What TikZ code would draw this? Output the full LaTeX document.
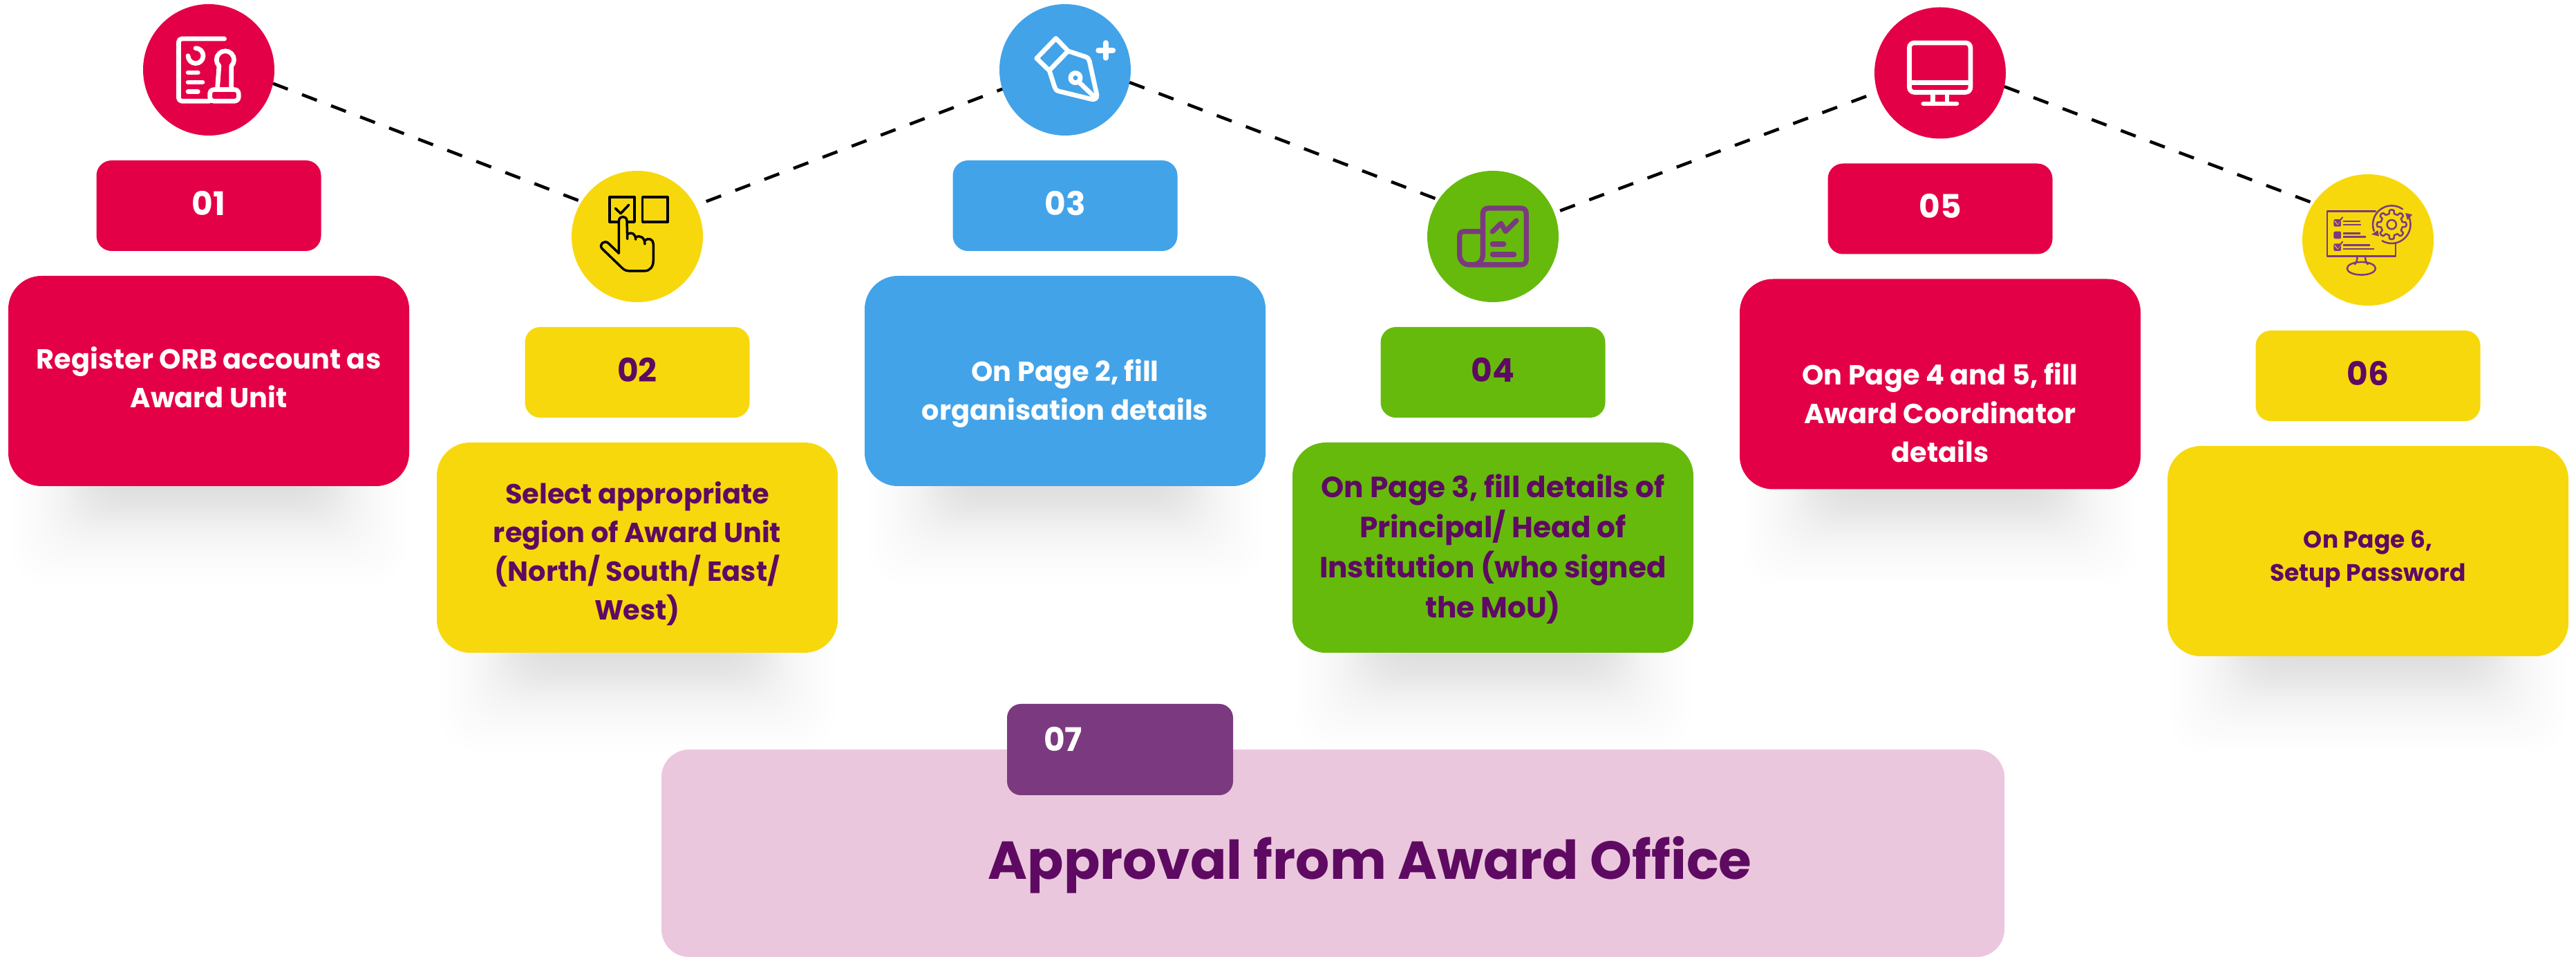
\documentclass[tikz,border=0pt]{standalone}
\usepackage{fontspec}
\setmainfont{Poppins}
\usetikzlibrary{calc,positioning}
\pgfdeclarelayer{bg}
\pgfsetlayers{bg,main}
\definecolor{awardred}{HTML}{E40046}
\definecolor{awardyellow}{HTML}{F7D80D}
\definecolor{awardblue}{HTML}{42A3E9}
\definecolor{awardgreen}{HTML}{66BA0C}
\definecolor{inkpurple}{HTML}{5E0A62}
\definecolor{iconpurple}{HTML}{7B3A80}
\definecolor{awardpink}{HTML}{EBC7DD}
\tikzset{
  circ/.style={circle,minimum size=1.9cm,inner sep=0pt,outer sep=0pt},
  numbox/.style={rounded corners=0.22cm,minimum width=3.25cm,minimum height=1.31cm,inner sep=0pt,outer sep=0pt,text depth=0.08cm,font=\fontsize{13.4}{16}\selectfont\bfseries},
  descbox/.style={rounded corners=0.48cm,minimum width=5.8cm,minimum height=3.04cm,inner sep=0pt,outer sep=0pt},
  desctext/.style={inner sep=0pt,align=center,font=\fontsize{11.35}{15.9}\selectfont\bfseries},
  dashlink/.style={line width=0.045cm,dash pattern=on 0.23cm off 0.22cm},
  icon/.style={line cap=round,line join=round},
  iconscope/.style={x=0.00333cm,y=-0.00333cm},
}
\begin{document}
\begin{tikzpicture}
  \useasboundingbox (0,0) rectangle (37.27,-13.84);

  \foreach \i/\x/\y/\col/\ink in {1/3.02/-1.01/awardred/white,2/9.22/-3.42/awardyellow/inkpurple,3/15.41/-1.01/awardblue/white,4/21.60/-3.42/awardgreen/inkpurple,5/28.07/-1.055/awardred/white,6/34.26/-3.47/awardyellow/inkpurple} {
    \node (c\i) [circ,fill=\col] at (\x,\y) {};
    \node (n\i) [numbox,fill=\col,text=\ink,below=0.36cm of c\i] {0\i};
    \node (d\i) [descbox,fill=\col,below=0.36cm of n\i] {};
    % soft shadow under the box
    \begin{pgfonlayer}{bg}
      \foreach \k in {0,...,39} {
        \pgfmathsetmacro\t{-1+\k/19.5}
        \pgfmathsetmacro\e{0.5*\t+0.45*\t*\t*\t}
        \fill[black,opacity=0.005,rounded corners=0.5cm]
          ($(d\i.west)+(1.0-\e,0)$) rectangle ($(d\i.south east)+(-1.0+\e,-0.45-\e)$);
      }
    \end{pgfonlayer}
  }

  \draw[dashlink] (c1.-12) -- (c2.148);
  \draw[dashlink,shorten <=0.17cm] (c2.28) -- (c3.197);
  \draw[dashlink] (c3.-11) -- (c4.146);
  \draw[dashlink,shorten <=0.09cm] (c4.21) -- (c5.197);
  \draw[dashlink] (c5.-12) -- (c6.146);

  \node (t1) [desctext,text=white] at ([yshift=0.05cm]d1.center) {Register ORB account as\\Award Unit};
  \node (t2) [desctext,text=inkpurple] at ([yshift=-0.09cm]d2.center) {Select appropriate\\region of Award Unit\\(North/ South/ East/\\West)};
  \node (t3) [desctext,text=white] at ([yshift=-0.18cm]d3.center) {On Page 2, fill\\organisation details};
  \node (t4) [desctext,text=inkpurple,font=\fontsize{12}{16.5}\selectfont\bfseries] at ([yshift=-0.02cm]d4.center) {On Page 3, fill details of\\Principal/ Head of\\Institution (who signed\\the MoU)};
  \node (t5) [desctext,text=white] at ([yshift=-0.41cm]d5.center) {On Page 4 and 5, fill\\Award Coordinator\\details};
  \node (t6) [desctext,text=inkpurple,font=\fontsize{9.8}{13.7}\selectfont\bfseries] at ([yshift=-0.11cm]d6.center) {On Page 6,\\Setup Password};

  \node (big) [fill=awardpink,rounded corners=0.4cm,minimum width=19.43cm,minimum height=3cm,inner sep=0pt] at (19.285,-12.34) {};
  \node (n7) [fill=iconpurple,rounded corners=0.2cm,minimum width=3.27cm,minimum height=1.32cm,inner sep=0pt] at (16.205,-10.84) {};
  \node (t7) [text=white,inner sep=0pt,font=\fontsize{13.4}{16}\selectfont\bfseries] at (15.38,-10.69) {07};
  \node (title) [text=inkpurple,inner sep=0pt,anchor=base,font=\fontsize{22}{28}\selectfont\bfseries] at (19.82,-12.72) {Approval from Award Office};

  % icon 1, paper and stamp
  \begin{scope}[shift={(c1)},iconscope,shift={(-367,-302)},icon,white,line width=0.067cm]
    \draw (435,167) -- (250,167) arc (270:180:14) -- (236,424) arc (180:90:14) -- (370,438);
    \draw[rounded corners=0.06cm] (372,388) rectangle (497,438);
    \draw (405,378) -- (412,285) arc (135:405:38) -- (465,378);
    \draw (310,208) arc (270:540:33);
    \draw (277,314) -- (320,314) (277,356) -- (340,356) (277,397) -- (320,397);
  \end{scope}
  % icon 2, ticked box and hand
  \begin{scope}[shift={(c2)},iconscope,shift={(-365,-307)},icon,black,line width=0.035cm]
    \draw (244,136) rectangle (353,244) (388,136) rectangle (497,244);
    \draw (270,185) -- (293,207) -- (328,170);
    \draw[fill=awardyellow] (285,380) -- (285,240) .. controls (285,215) and (320,215) .. (320,240) -- (322,318)
      (322,298) .. controls (340,285) and (358,295) .. (358,320)
      (358,310) .. controls (375,300) and (398,310) .. (398,340)
      (398,325) .. controls (415,310) and (435,320) .. (435,340) -- (435,410)
      .. controls (435,440) and (420,457) .. (395,457) -- (330,457)
      .. controls (310,457) and (300,445) .. (290,435) -- (212,360)
      .. controls (195,340) and (225,320) .. (240,337) -- (285,380);
  \end{scope}
  % icon 3, pen nib
  \begin{scope}[shift={(c3)},iconscope,shift={(-362,-302)},icon,white,line width=0.067cm]
    \draw (322,165) -- (375,220) -- (293,305) -- (238,252) -- cycle;
    \draw (380,222) -- (450,245) .. controls (462,250) and (465,255) .. (468,265) -- (500,410)
      .. controls (503,425) and (490,433) .. (478,430) -- (335,395)
      .. controls (322,392) and (320,385) .. (316,375) -- (295,310);
    \draw[line width=0.07cm] (407,337) circle (21);
    \draw (425,358) -- (490,420);
    \draw[line width=0.08cm] (538,185) -- (538,250) (507,217) -- (570,217);
  \end{scope}
  % icon 4, scroll with chart
  \begin{scope}[shift={(c4)},iconscope,shift={(-360,-307)},icon,iconpurple,line width=0.073cm]
    \draw (316,285) -- (316,210) .. controls (316,192) and (325,184) .. (342,184) -- (480,184)
      .. controls (497,184) and (505,192) .. (505,210) -- (505,405)
      .. controls (505,422) and (497,430) .. (480,430) -- (258,430)
      .. controls (232,430) and (215,412) .. (215,388) -- (215,305)
      .. controls (215,292) and (222,285) .. (235,285) -- (316,285) -- (316,385)
      .. controls (316,410) and (300,430) .. (270,430);
    \draw (358,286) -- (395,250) -- (415,285) -- (462,238);
    \draw (358,340) -- (407,340) (358,385) -- (452,385);
  \end{scope}
  % icon 5, monitor
  \begin{scope}[shift={(c5)},iconscope,shift={(-380,-316)},icon,white,line width=0.067cm]
    \draw[rounded corners=0.07cm] (246,185) rectangle (512,400);
    \draw (246,358) -- (512,358);
    \draw (348,400) -- (348,450) (410,400) -- (410,450);
    \draw (307,450) -- (452,450);
  \end{scope}
  % icon 6, monitor with gear
  \begin{scope}[shift={(c6)},iconscope,shift={(-377,-322)},icon,iconpurple,line width=0.025cm]
    \draw (410,198) -- (200,198) -- (200,393) -- (497,393) -- (497,335);
    \draw (330,393) .. controls (330,410) and (328,418) .. (320,428);
    \draw (365,393) .. controls (365,410) and (368,418) .. (376,428);
    \draw (348,446) ellipse (62 and 28);
    % gear
    \draw (480,255) circle (20);
    \draw ($(480,255)+(-9:62)$)
      \foreach \a in {0,45,...,315} {
        -- ($(480,255)+(\a-9:62)$) .. controls ($(480,255)+(\a-4:66)$) and ($(480,255)+(\a+4:66)$) .. ($(480,255)+(\a+9:62)$)
        -- ($(480,255)+(\a+13:48)$) -- ($(480,255)+(\a+32:48)$)
      } -- cycle;
    \draw (480,255) ++(160:82) arc (160:305:82);
    \draw (480,255) ++(335:82) arc (335:480:82);
    \fill (570,212) -- (540,205) -- (548,235) -- cycle;
    \fill (392,298) -- (425,306) -- (420,280) -- cycle;
    % list rows
    \fill[rounded corners=0.02cm] (228,232) rectangle (260,264) (228,285) rectangle (260,317) (228,338) rectangle (260,370);
    \draw[awardyellow,line width=0.01cm] (232,240) -- (245,255) -- (265,228) (232,346) -- (245,361) -- (265,334);
    \draw[line width=0.02cm] (245,250) -- (266,224) (245,356) -- (266,330);
    \draw[line cap=butt] (270,241) -- (343,241) (270,256) -- (348,256) (270,293) -- (345,293) (270,309) -- (368,309) (270,345) -- (385,345) (270,361) -- (405,361);
  \end{scope}
\end{tikzpicture}
\end{document}
